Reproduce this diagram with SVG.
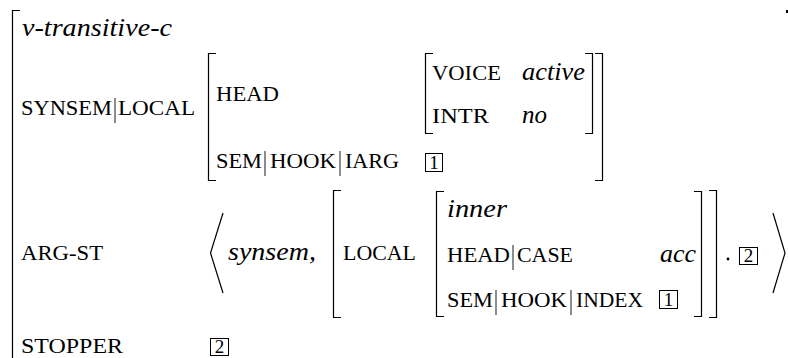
<svg xmlns="http://www.w3.org/2000/svg" width="788" height="358" viewBox="0 0 788 358">
<style>
.br{fill:none;stroke:#000;stroke-width:1.2}
.bar{stroke:#000;stroke-width:0.9}
.box{fill:none;stroke:#000;stroke-width:1}
</style>
<rect width="788" height="358" fill="#fff"/>
<g id="connectors"/>
<g id="outer-avm">
  <path class="br" d="M20 10.5H12.5V360"/>
  <rect x="786" y="10" width="2" height="3" fill="#000"/>
  <text font-family="Liberation Serif" font-style="italic" font-size="25" x="22" y="36" textLength="150" lengthAdjust="spacingAndGlyphs">v-transitive-c</text>
  <text font-family="Liberation Serif" font-size="22" x="21" y="115" textLength="91" lengthAdjust="spacingAndGlyphs">SYNSEM</text>
  <line class="bar" x1="115" y1="98" x2="115" y2="123"/>
  <text font-family="Liberation Serif" font-size="22" x="118" y="115" textLength="77" lengthAdjust="spacingAndGlyphs">LOCAL</text>
  <text font-family="Liberation Serif" font-size="22" x="21" y="260" textLength="82" lengthAdjust="spacingAndGlyphs">ARG-ST</text>
  <text font-family="Liberation Serif" font-size="22" x="21" y="353" textLength="102" lengthAdjust="spacingAndGlyphs">STOPPER</text>
</g>
<g id="stopper-tag">
  <rect class="box" x="210.5" y="338.5" width="18" height="17"/>
  <text font-family="Liberation Serif" font-size="19" text-anchor="middle" x="219.5" y="353">2</text>
</g>
<g id="local-avm">
  <path class="br" d="M216 53.5H208.5V180.5H216"/>
  <path class="br" d="M595 53.5H602.5V180.5H595"/>
  <text font-family="Liberation Serif" font-size="22" x="216" y="101" textLength="63" lengthAdjust="spacingAndGlyphs">HEAD</text>
  <text font-family="Liberation Serif" font-size="22" x="216" y="168" textLength="46" lengthAdjust="spacingAndGlyphs">SEM</text>
  <line class="bar" x1="265" y1="151" x2="265" y2="176"/>
  <text font-family="Liberation Serif" font-size="22" x="270" y="168" textLength="66" lengthAdjust="spacingAndGlyphs">HOOK</text>
  <line class="bar" x1="340" y1="151" x2="340" y2="176"/>
  <text font-family="Liberation Serif" font-size="22" x="345" y="168" textLength="54" lengthAdjust="spacingAndGlyphs">IARG</text>
</g>
<g id="iarg-tag">
  <rect class="box" x="425.5" y="153.5" width="17" height="18"/>
  <text font-family="Liberation Serif" font-size="19" text-anchor="middle" x="434" y="169">1</text>
</g>
<g id="head-avm">
  <path class="br" d="M433 53.5H425.5V133.5H433"/>
  <path class="br" d="M585 53.5H592.5V133.5H585"/>
  <text font-family="Liberation Serif" font-size="22" x="432" y="80" textLength="69" lengthAdjust="spacingAndGlyphs">VOICE</text>
  <text font-family="Liberation Serif" font-style="italic" font-size="25" x="522" y="80" textLength="63" lengthAdjust="spacingAndGlyphs">active</text>
  <text font-family="Liberation Serif" font-size="22" x="432" y="123" textLength="57" lengthAdjust="spacingAndGlyphs">INTR</text>
  <text font-family="Liberation Serif" font-style="italic" font-size="25" x="522" y="123" textLength="25" lengthAdjust="spacingAndGlyphs">no</text>
</g>
<g id="arg-st-list">
  <polyline class="br" points="223,213 210.5,253 223,293"/>
  <text font-family="Liberation Serif" font-style="italic" font-size="25" x="228" y="260" textLength="88" lengthAdjust="spacingAndGlyphs">synsem,</text>
  <circle cx="728" cy="259" r="1.4" fill="#000"/>
  <polyline class="br" points="773,213 785,253 773,293"/>
</g>
<g id="synsem-avm">
  <path class="br" d="M341 190.5H333.5V317.5H341"/>
  <path class="br" d="M709 190.5H716.5V317.5H709"/>
  <text font-family="Liberation Serif" font-size="22" x="343" y="260" textLength="73" lengthAdjust="spacingAndGlyphs">LOCAL</text>
</g>
<g id="inner-avm">
  <path class="br" d="M444 191.5H436.5V316.5H444"/>
  <path class="br" d="M694 191.5H701.5V316.5H694"/>
  <text font-family="Liberation Serif" font-style="italic" font-size="25" x="447" y="217" textLength="60" lengthAdjust="spacingAndGlyphs">inner</text>
  <text font-family="Liberation Serif" font-size="22" x="447" y="262" textLength="63" lengthAdjust="spacingAndGlyphs">HEAD</text>
  <line class="bar" x1="513" y1="245" x2="513" y2="270"/>
  <text font-family="Liberation Serif" font-size="22" x="517" y="262" textLength="56" lengthAdjust="spacingAndGlyphs">CASE</text>
  <text font-family="Liberation Serif" font-style="italic" font-size="25" x="660" y="262" textLength="36" lengthAdjust="spacingAndGlyphs">acc</text>
  <text font-family="Liberation Serif" font-size="22" x="447" y="307" textLength="46" lengthAdjust="spacingAndGlyphs">SEM</text>
  <line class="bar" x1="496" y1="290" x2="496" y2="315"/>
  <text font-family="Liberation Serif" font-size="22" x="501" y="307" textLength="66" lengthAdjust="spacingAndGlyphs">HOOK</text>
  <line class="bar" x1="571" y1="290" x2="571" y2="315"/>
  <text font-family="Liberation Serif" font-size="22" x="576" y="307" textLength="67" lengthAdjust="spacingAndGlyphs">INDEX</text>
</g>
<g id="index-tag">
  <rect class="box" x="659.5" y="290.5" width="18" height="18"/>
  <text font-family="Liberation Serif" font-size="19" text-anchor="middle" x="668.5" y="306">1</text>
</g>
<g id="list-tag">
  <rect class="box" x="739.5" y="247.5" width="18" height="17"/>
  <text font-family="Liberation Serif" font-size="19" text-anchor="middle" x="748.5" y="262">2</text>
</g>
</svg>
